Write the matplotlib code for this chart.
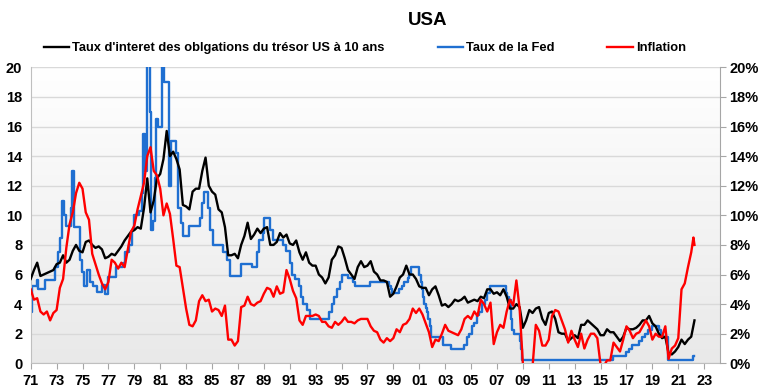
import numpy as np
import matplotlib.pyplot as plt
from matplotlib.colors import LinearSegmentedColormap

# Données trimestrielles (janv/avr/juil/oct) à partir de 1971
start_year = 1971
treasury_10y = [
    5.7, 6.3, 6.8, 5.9,   6.0, 6.1, 6.2, 6.3,   6.7, 6.8, 7.3, 6.8,   7.0, 7.6, 8.0, 7.6,   # 71-74
    7.5, 8.2, 8.3, 8.0,   7.8, 7.9, 7.7, 7.1,   7.2, 7.4, 7.3, 7.6,   7.9, 8.3, 8.6, 8.9,   # 75-78
    9.0, 9.2, 9.1, 10.5,  12.5, 10.2, 11.0, 12.5, 12.8, 13.8, 15.7, 14.0, 14.3, 13.8, 13.1, 10.7,  # 79-82
    10.6, 10.4, 11.6, 11.8, 11.8, 13.0, 13.9, 12.0, 11.6, 11.4, 10.4, 10.2, 9.2, 7.3, 7.3, 7.4,  # 83-86
    7.1, 8.0, 8.6, 9.5,   8.4, 8.7, 9.1, 8.8,   9.1, 9.2, 8.0, 8.0,   8.2, 8.8, 8.5, 8.7,   # 87-90
    8.1, 8.0, 8.3, 7.5,   7.0, 7.5, 6.8, 6.6,   6.6, 6.0, 5.8, 5.4,   5.8, 7.0, 7.3, 7.9,   # 91-94
    7.8, 7.1, 6.3, 6.0,   5.7, 6.5, 6.9, 6.5,   6.6, 6.9, 6.2, 6.0,   5.6, 5.6, 5.5, 4.5,   # 95-98
    4.7, 5.2, 5.8, 6.0,   6.6, 6.0, 6.0, 5.7,   5.2, 5.1, 5.1, 4.6,   5.0, 5.2, 4.6, 3.9,   # 99-02
    4.0, 3.8, 4.0, 4.3,   4.2, 4.3, 4.5, 4.1,   4.2, 4.3, 4.2, 4.5,   4.4, 5.0, 5.0, 4.7,   # 03-06
    4.8, 4.6, 5.0, 4.5,   3.7, 3.7, 4.0, 3.8,   2.4, 2.9, 3.6, 3.4,   3.7, 3.8, 3.0, 2.6,   # 07-10
    3.4, 3.5, 3.0, 2.1,   2.0, 2.0, 1.5, 1.7,   1.9, 1.7, 2.6, 2.6,   2.9, 2.7, 2.5, 2.3,   # 11-14
    1.9, 1.9, 2.3, 2.1,   2.1, 1.8, 1.5, 1.8,   2.4, 2.3, 2.3, 2.4,   2.6, 2.9, 2.9, 3.2,   # 15-18
    2.7, 2.5, 2.0, 1.7,   1.8, 0.7, 0.6, 0.8,   1.1, 1.6, 1.3, 1.6,   1.8, 2.9,             # 19-22
]
inflation = [
    5.0, 4.3, 4.4, 3.5,   3.3, 3.5, 2.9, 3.4,   3.6, 5.1, 5.7, 7.8,   9.4, 10.2, 11.5, 12.2,  # 71-74
    11.8, 10.2, 9.7, 7.4, 6.7, 6.0, 5.4, 5.0,   5.5, 7.0, 6.8, 6.4,   6.8, 6.5, 7.7, 8.9,   # 75-78
    9.3, 10.4, 11.3, 12.2, 14.0, 14.6, 13.0, 12.7, 11.8, 10.0, 10.8, 10.1, 8.4, 6.6, 6.5, 5.1,  # 79-82
    3.7, 2.6, 2.5, 2.9,   4.2, 4.6, 4.2, 4.3,   3.5, 3.7, 3.6, 3.2,   3.9, 1.6, 1.6, 1.2,   # 83-86
    1.5, 3.8, 3.9, 4.5,   4.0, 3.9, 4.1, 4.2,   4.7, 5.1, 5.0, 4.5,   5.2, 4.7, 4.8, 6.3,   # 87-90
    5.7, 4.9, 4.4, 2.9,   2.6, 3.2, 3.2, 3.2,   3.3, 3.2, 2.8, 2.8,   2.5, 2.4, 2.8, 2.6,   # 91-94
    2.8, 3.1, 2.8, 2.8,   2.7, 2.9, 3.0, 3.0,   3.0, 2.5, 2.2, 2.1,   1.6, 1.4, 1.7, 1.5,   # 95-98
    1.7, 2.3, 2.1, 2.6,   2.7, 3.0, 3.7, 3.4,   3.7, 3.3, 2.7, 2.1,   1.1, 1.6, 1.5, 2.0,   # 99-02
    2.6, 2.2, 2.1, 2.0,   1.9, 2.3, 3.0, 3.2,   3.0, 3.5, 3.2, 4.3,   4.0, 3.5, 4.1, 1.3,   # 03-06
    2.1, 2.6, 2.4, 3.5,   4.3, 3.9, 5.6, 3.7,   0.0, -0.7, -2.1, -0.2, 2.6, 2.2, 1.2, 1.2,  # 07-10
    1.6, 3.2, 3.6, 3.5,   2.9, 2.3, 1.4, 2.2,   1.6, 1.1, 2.0, 1.0,   1.6, 2.0, 2.0, 1.7,   # 11-14
    -0.1, -0.2, 0.2, 0.2, 1.4, 1.1, 0.8, 1.6,   2.5, 2.2, 1.7, 2.0,   2.1, 2.5, 2.9, 2.5,   # 15-18
    1.6, 2.0, 1.8, 1.8,   2.5, 0.3, 1.0, 1.2,   1.7, 5.0, 5.4, 6.5,   7.5,                  # 19-22
]
inflation_end_t = [2022.17, 2022.25]
inflation_end = [8.5, 8.0]

# Taux de la Fed : date du changement, nouveau niveau
fed_t = [
    1971.00, 1971.12, 1971.45, 1971.60, 1972.10, 1972.90, 1973.10, 1973.30, 1973.45, 1973.55,
    1973.70, 1974.10, 1974.20, 1974.32, 1974.80, 1974.95, 1975.15, 1975.35, 1975.55, 1975.80,
    1976.10, 1976.50, 1976.75, 1977.00, 1977.60, 1978.10, 1978.30, 1978.60, 1978.80, 1979.00,
    1979.40, 1979.60, 1979.70, 1979.80, 1980.00, 1980.18, 1980.27, 1980.45, 1980.60, 1980.70,
    1980.80, 1981.15, 1981.30, 1981.70, 1981.80, 1982.20, 1982.40, 1982.60, 1982.75, 1983.20,
    1984.05, 1984.25, 1984.40, 1984.70, 1984.85, 1985.10, 1985.85, 1986.15, 1986.40, 1987.25,
    1988.10, 1988.45, 1988.65, 1988.90, 1989.05, 1989.45, 1989.70, 1990.50, 1990.75, 1991.00,
    1991.20, 1991.40, 1991.70, 1991.90, 1992.05, 1992.30, 1992.55, 1994.05, 1994.25, 1994.40,
    1994.65, 1994.90, 1995.05, 1995.50, 1995.90, 1996.05, 1997.20, 1998.70, 1998.80, 1998.90,
    1999.45, 1999.65, 1999.85, 2000.10, 2000.20, 2000.35, 2001.00, 2001.10, 2001.20, 2001.30,
    2001.40, 2001.50, 2001.60, 2001.70, 2001.80, 2001.90, 2002.85, 2003.45, 2004.45, 2004.65,
    2004.85, 2005.05, 2005.25, 2005.45, 2005.65, 2005.85, 2006.05, 2006.25, 2006.45, 2007.70,
    2007.80, 2007.95, 2008.05, 2008.20, 2008.30, 2008.75, 2008.85, 2008.95, 2015.95, 2016.95,
    2017.20, 2017.45, 2017.95, 2018.20, 2018.45, 2018.70, 2018.95, 2019.55, 2019.70, 2019.80,
    2020.20, 2022.17, 2022.25,
]
fed_rate = [
    3.5, 5.2, 5.6, 5.0, 5.6, 6.5, 7.5, 8.5, 11.0, 10.0,
    9.3, 10.5, 13.0, 9.2, 7.0, 6.2, 5.2, 6.3, 5.5, 5.2,
    4.8, 5.3, 4.7, 5.8, 6.5, 6.8, 7.5, 8.0, 9.0, 10.0,
    10.3, 11.5, 15.5, 13.0, 21.0, 17.0, 9.0, 9.6, 12.5, 16.5,
    16.0, 21.0, 19.0, 12.0, 15.0, 14.2, 10.5, 9.5, 8.6, 9.3,
    9.8, 10.8, 11.6, 10.5, 9.0, 8.0, 7.5, 7.0, 5.9, 6.7,
    6.5, 7.5, 8.3, 8.8, 9.8, 9.0, 8.3, 8.0, 7.6, 6.8,
    6.0, 5.7, 5.2, 4.5, 4.0, 3.6, 3.0, 3.5, 4.0, 4.5,
    5.0, 5.5, 6.0, 5.75, 5.5, 5.25, 5.5, 5.25, 5.0, 4.75,
    5.0, 5.25, 5.5, 5.75, 6.0, 6.5, 6.0, 5.5, 5.0, 4.5,
    4.0, 3.75, 3.5, 3.0, 2.5, 1.75, 1.25, 1.0, 1.25, 1.75,
    2.0, 2.5, 2.75, 3.25, 3.5, 4.0, 4.25, 4.75, 5.25, 4.75,
    4.5, 4.25, 3.0, 2.25, 2.0, 1.5, 1.0, 0.25, 0.5, 0.75,
    1.0, 1.25, 1.5, 1.75, 2.0, 2.25, 2.5, 2.25, 2.0, 1.75,
    0.25, 0.5, 0.5,
]

t_q = start_year + 0.25 * np.arange(len(treasury_10y))
t_infl = np.concatenate([start_year + 0.25 * np.arange(len(inflation)), inflation_end_t])
infl = np.concatenate([inflation, inflation_end])

plt.rcParams['font.family'] = ['Liberation Sans', 'DejaVu Sans']
plt.rcParams['font.weight'] = 'bold'

fig = plt.figure(figsize=(7.6, 3.91), dpi=100)
ax = fig.add_axes([0.0404, 0.0708, 0.9066, 0.757])
x0, x1 = 1971, 2024.2

# fond dégradé blanc -> gris
bg = LinearSegmentedColormap.from_list('bg', ['#ffffff', '#e9e9e9'])
ax.imshow(np.linspace(0, 1, 256)[:, None], extent=[x0, x1, 0, 20], aspect='auto',
          cmap=bg, zorder=0)

l1, = ax.plot(t_q, treasury_10y, color='black', lw=1.7, zorder=3,
              label="Taux d'interet des oblgations du trésor US à 10 ans")
l2, = ax.step(fed_t, fed_rate, where='post', color='#1f6fd1', lw=1.7, zorder=2,
              label='Taux de la Fed')

ax.set_xlim(x0, x1)
ax.set_ylim(0, 20)
ax.set_yticks(range(0, 21, 2))
ax.grid(axis='y', color='#d9d9d9', lw=1)
ax.set_axisbelow(True)
years = list(range(1971, 2024, 2))
ax.set_xticks(years)
ax.set_xticklabels([f'{y % 100:02d}' for y in years])
ax.tick_params(axis='x', length=4, color='#a6a6a6', labelsize=10.5, pad=4)
ax.tick_params(axis='y', length=0, labelsize=10.5, pad=6)
for s in ['top', 'right']:
    ax.spines[s].set_visible(False)
for s in ['left', 'bottom']:
    ax.spines[s].set_color('#bfbfbf')

ax2 = ax.twinx()
l3, = ax2.plot(t_infl, infl, color='#ff0000', lw=1.7, label='Inflation')
ax2.set_ylim(0, 20)
ax2.set_yticks(range(0, 21, 2))
ax2.set_yticklabels([f'{v}%' for v in range(0, 21, 2)])
ax2.tick_params(axis='y', length=4, color='#a6a6a6', labelsize=10.5, pad=3)
for s in ['top', 'left', 'bottom']:
    ax2.spines[s].set_visible(False)
ax2.spines['right'].set_color('#a6a6a6')

fig.text(0.563, 0.948, 'USA', ha='center', va='center', fontsize=13.5, fontweight='bold')
fig.legend(handles=[l1, l2, l3], loc='center', bbox_to_anchor=(0.48, 0.877), ncol=3,
           frameon=False, fontsize=9.3, handlelength=1.95, handletextpad=0.25,
           columnspacing=4.1)

fig.savefig('out.png', dpi=100)
